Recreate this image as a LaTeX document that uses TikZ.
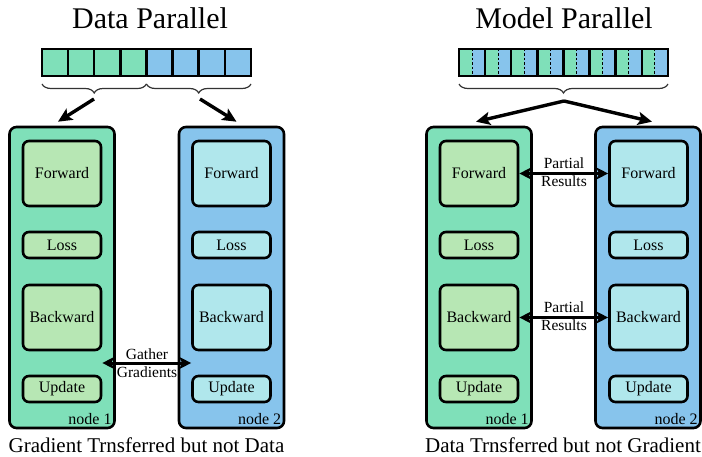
\documentclass[tikz,border=0pt]{standalone}
\usepackage{fontspec}
\setmainfont{Liberation Serif}
\usetikzlibrary{arrows.meta,decorations.pathreplacing,calc}
\definecolor{gOuter}{HTML}{7FE0B9}
\definecolor{gInner}{HTML}{B7E7B4}
\definecolor{bOuter}{HTML}{87C4EC}
\definecolor{bInner}{HTML}{B0E7EC}
\tikzset{
  outerbox/.style={draw, line width=2.6pt, rounded corners=7pt, minimum width=105pt, minimum height=301pt, inner sep=0pt},
  stage/.style={draw, line width=2.6pt, rounded corners=6pt, minimum width=78pt, inner sep=0pt, font=\fontsize{16}{16}\selectfont},
  stagetall/.style={stage, minimum height=65pt},
  stageshort/.style={stage, minimum height=26pt},
  tag/.style={font=\fontsize{16}{16}\selectfont, anchor=south east, inner xsep=4pt, inner ysep=4pt},
  titletext/.style={font=\fontsize{30}{30}\selectfont, anchor=base},
  captiontext/.style={font=\fontsize{21}{21}\selectfont, anchor=base},
  cell/.style={draw, line width=2.4pt, minimum width=26.1pt, minimum height=27pt, inner sep=0pt},
  splitcell/.style={cell, fill=gOuter, path picture={
      \fill[bOuter] (path picture bounding box.north) rectangle (path picture bounding box.south east);
      \draw[dashed, line width=0.9pt, dash pattern=on 2.5pt off 2pt] (path picture bounding box.north) -- (path picture bounding box.south);}},
  bigarrow/.style={line width=3.4pt, -{Stealth[length=14pt,width=13pt,inset=3pt]}},
  swaparrow/.style={line width=3pt, {Stealth[length=12pt,width=12pt,inset=3pt]}-{Stealth[length=12pt,width=12pt,inset=3pt]}},
  brc/.style={decorate, decoration={brace, mirror, amplitude=9pt}, line width=1.2pt, draw=black!80},
  lbl/.style={font=\fontsize{15.5}{18.5}\selectfont, align=center, inner sep=0pt}
}
\begin{document}
\begin{tikzpicture}[x=1pt, y=-1pt]
\useasboundingbox (0,0) rectangle (702,457);

% ---------------- Data parallel ----------------
\node[titletext] (dpTitle) at (150,29) {Data Parallel};

% mini-batch split into two halves
\foreach \i in {0,...,3}
  \node[cell, fill=gOuter] (dc\i) at ({55.05+26.1*\i},62.5) {};
\foreach \i in {4,...,7}
  \node[cell, fill=bOuter] (dc\i) at ({55.05+26.1*\i},62.5) {};

\draw[brc] (42,84) -- (146.4,84);
\draw[brc] (146.4,84) -- (251,84);
\coordinate (dpTipA) at (94,99);
\coordinate (dpTipB) at (200,99);

% worker nodes
\node[outerbox, fill=gOuter] (dpN1) at (62,277.5) {};
\node[outerbox, fill=bOuter] (dpN2) at (231.5,277.5) {};
\node[tag] at (dpN1.south east) {node 1};
\node[tag] at (dpN2.south east) {node 2};

\foreach \n/\x/\c in {1/62/gInner, 2/231.5/bInner}{
  \node[stagetall, fill=\c]  (dpF\n) at (\x,173.5) {Forward};
  \node[stageshort, fill=\c] (dpL\n) at (\x,245)   {Loss};
  \node[stagetall, fill=\c]  (dpB\n) at (\x,317.5) {Backward};
  \node[stageshort, fill=\c] (dpU\n) at (\x,389)   {Update};
}

\draw[bigarrow] (dpTipA) -- ([shift={(-4,-4)}]dpN1.north);
\draw[bigarrow] (dpTipB) -- ([shift={(5,-4)}]dpN2.north);

\node[lbl] (gather) at (147,363) {Gather\\Gradients};
\draw[swaparrow] (dpB1.east |- gather) -- (dpB2.west |- gather);

\node[captiontext] (dpCap) at (146.5,452) {Gradient Trnsferred but not Data};

% ---------------- Model parallel ----------------
\node[titletext] (mpTitle) at (564,29) {Model Parallel};

\foreach \i in {0,...,7}
  \node[splitcell] (mc\i) at ({472.05+26.1*\i},62.5) {};

\draw[brc] (459,84) -- (668,84);
\coordinate (mpTip) at (564,101);

\node[outerbox, fill=gOuter] (mpN1) at (479,277.5) {};
\node[outerbox, fill=bOuter] (mpN2) at (648,277.5) {};
\node[tag] at (mpN1.south east) {node 1};
\node[tag] at (mpN2.south east) {node 2};

\foreach \n/\x/\c in {1/479/gInner, 2/648.5/bInner}{
  \node[stagetall, fill=\c]  (mpF\n) at (\x,173.5) {Forward};
  \node[stageshort, fill=\c] (mpL\n) at (\x,245)   {Loss};
  \node[stagetall, fill=\c]  (mpB\n) at (\x,317.5) {Backward};
  \node[stageshort, fill=\c] (mpU\n) at (\x,389)   {Update};
}

\draw[bigarrow] (mpTip) -- ([shift={(-3,-4)}]mpN1.north);
\draw[bigarrow] (mpTip) -- ([shift={(4,-4)}]mpN2.north);

\node[lbl] (fwdMsg) at (564,172) {Partial\\Results};
\draw[swaparrow] (mpF1.east) -- (mpF2.west);
\node[lbl] (bwdMsg) at (564,316) {Partial\\Results};
\draw[swaparrow] (mpB1.east) -- (mpB2.west);

\node[captiontext] (mpCap) at (563,452) {Data Trnsferred but not Gradient};
\end{tikzpicture}
\end{document}
